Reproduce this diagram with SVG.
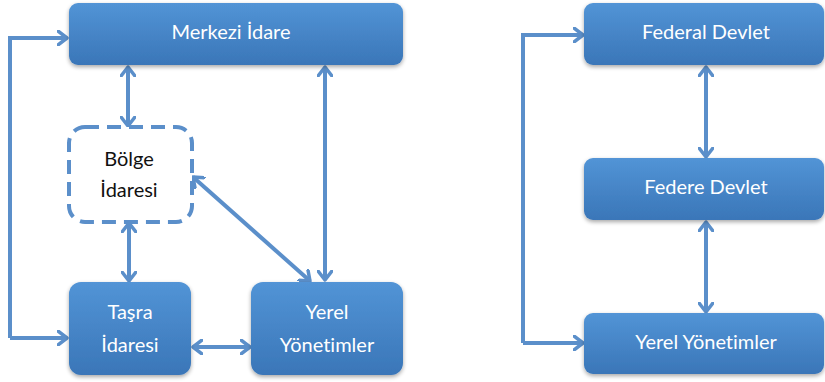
<svg xmlns="http://www.w3.org/2000/svg" width="825" height="382" viewBox="0 0 825 382">
<style>
.box{fill:url(#g);stroke:none;filter:url(#sh)}
.lbl{font-family:Lato,"Liberation Sans",Arial,sans-serif;font-size:20px;fill:#ffffff;text-anchor:middle;font-variant-ligatures:none}
.dk{fill:#111111}
.c{fill:none;stroke:#5b8fca;stroke-width:4;marker-end:url(#a)}
.b{marker-start:url(#a)}
</style>
<defs>
<linearGradient id="g" x1="0" y1="0" x2="0" y2="1">
<stop offset="0" stop-color="#5294d6"/>
<stop offset="1" stop-color="#3a76b8"/>
</linearGradient>
<filter id="sh" x="-10%" y="-10%" width="120%" height="130%">
<feGaussianBlur in="SourceAlpha" stdDeviation="2"/>
<feOffset dx="0" dy="2" result="o"/>
<feComponentTransfer><feFuncA type="linear" slope="0.35"/></feComponentTransfer>
<feMerge><feMergeNode/><feMergeNode in="SourceGraphic"/></feMerge>
</filter>
<marker id="a" viewBox="0 0 12 16" refX="10" refY="8" markerWidth="12" markerHeight="16" markerUnits="userSpaceOnUse" orient="auto-start-reverse">
<path d="M1,1 L10,8 L1,15" fill="none" stroke="#5b8fca" stroke-width="3.5" stroke-linecap="round" stroke-linejoin="round"/>
</marker>
</defs>
<g id="connectors">
<path class="c" d="M10,338 L10,38 L67,38"/>
<path class="c" d="M10,338 L67,338"/>
<path class="c b" d="M128,67 L128,126"/>
<path class="c b" d="M325,67 L325,280"/>
<path class="c b" d="M193,177 L310,281"/>
<path class="c b" d="M129,223 L129,281"/>
<path class="c b" d="M193,347 L250,347"/>
<path class="c" d="M523,343 L523,35 L583,35"/>
<path class="c" d="M523,343 L583,343"/>
<path class="c b" d="M706,67 L706,157"/>
<path class="c b" d="M706,222 L706,312"/>
</g>
<g id="merkezi">
<rect class="box" x="69" y="3" width="334" height="62" rx="9"/>
<text class="lbl" x="231" y="39">Merkezi İdare</text>
</g>
<g id="bolge">
<rect x="69" y="127" width="123" height="95" rx="16" fill="#ffffff" stroke="#5b8fca" stroke-width="4" stroke-dasharray="14,8"/>
<text class="lbl dk" x="129" y="166">Bölge</text>
<text class="lbl dk" x="129" y="197">İdaresi</text>
</g>
<g id="tasra">
<rect class="box" x="69" y="282" width="122" height="93" rx="12"/>
<text class="lbl" x="130" y="319">Taşra</text>
<text class="lbl" x="130" y="352">İdaresi</text>
</g>
<g id="yerel">
<rect class="box" x="251" y="282" width="152" height="93" rx="12"/>
<text class="lbl" x="327" y="319">Yerel</text>
<text class="lbl" x="327" y="352">Yönetimler</text>
</g>
<g id="federal">
<rect class="box" x="584" y="3" width="240" height="62" rx="9"/>
<text class="lbl" x="706" y="39">Federal Devlet</text>
</g>
<g id="federe">
<rect class="box" x="584" y="158" width="240" height="62" rx="9"/>
<text class="lbl" x="706" y="194">Federe Devlet</text>
</g>
<g id="yerel2">
<rect class="box" x="584" y="313" width="240" height="61" rx="9"/>
<text class="lbl" x="706" y="349">Yerel Yönetimler</text>
</g>
</svg>
